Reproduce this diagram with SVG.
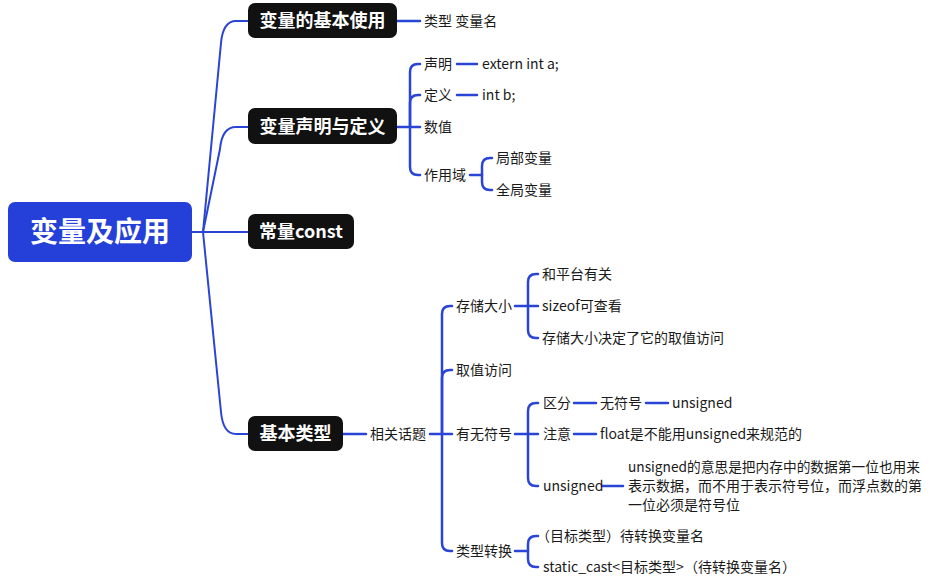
<svg xmlns="http://www.w3.org/2000/svg" width="932" height="581" viewBox="0 0 932 581">
<style>
.c{fill:none;stroke:#2a45d6;stroke-width:2.5;stroke-linecap:round;stroke-linejoin:round}
.tr{stroke-width:2}
.n{fill:#111111}
.nt{fill:#ffffff;font-family:"Noto Sans CJK SC","Noto Sans",sans-serif;font-weight:bold;font-size:18px}
.t{fill:#1a1a1a;font-family:"Noto Sans CJK SC","Noto Sans",sans-serif;font-size:14px}
</style>
<rect width="932" height="581" fill="#ffffff"/>
<g id="connectors">
<path class="c tr" d="M192,232 H203"/>
<path class="c tr" d="M203,232 L221,43 Q223,21 236,21 H248"/>
<path class="c tr" d="M203,232 L220,149 Q222,127 236,127 H248"/>
<path class="c tr" d="M203,232 H248"/>
<path class="c tr" d="M203,232 L221,412 Q223,434 236,434 H248"/>
<path class="c" d="M397,21 H420"/>
<path class="c" d="M397,127 H410 V72 Q410,64 418,64 H420"/>
<path class="c" d="M410,127 V103 Q410,95 418,95 H420"/>
<path class="c" d="M410,127 H420"/>
<path class="c" d="M410,127 V167 Q410,175 418,175 H420"/>
<path class="c" d="M457,64 H477"/>
<path class="c" d="M457,95 H477"/>
<path class="c" d="M470,175 H482 V166 Q482,158 490,158 H492"/>
<path class="c" d="M482,175 V182 Q482,190 490,190 H492"/>
<path class="c" d="M343,434 H366"/>
<path class="c" d="M430,434 H442 V314 Q442,306 450,306 H452"/>
<path class="c" d="M442,434 V378 Q442,370 450,370 H452"/>
<path class="c" d="M442,434 H452"/>
<path class="c" d="M442,434 V543 Q442,551 450,551 H452"/>
<path class="c" d="M515,306 H528 V282 Q528,274 536,274 H538"/>
<path class="c" d="M528,306 H538"/>
<path class="c" d="M528,306 V330 Q528,338 536,338 H538"/>
<path class="c" d="M515,434 H528 V411 Q528,403 536,403 H538"/>
<path class="c" d="M528,434 H538"/>
<path class="c" d="M528,434 V478 Q528,486 536,486 H538"/>
<path class="c" d="M574,403 H596"/>
<path class="c" d="M646,403 H668"/>
<path class="c" d="M574,434 H596"/>
<path class="c" d="M602,486 H623"/>
<path class="c" d="M515,551 H528 V544 Q528,536 536,536 H538"/>
<path class="c" d="M528,551 V559 Q528,567 536,567 H538"/>
</g>
<g id="root">
<rect x="8" y="202" width="184" height="60" rx="7" fill="#2440d8"/>
<text x="100" y="242" text-anchor="middle" fill="#ffffff" font-family="Noto Sans CJK SC, sans-serif" font-weight="bold" font-size="28">变量及应用</text>
</g>
<g id="n1">
<rect class="n" x="248" y="3" width="149" height="35" rx="7"/>
<text class="nt" x="322.5" y="27" text-anchor="middle">变量的基本使用</text>
</g>
<g id="n2">
<rect class="n" x="248" y="108" width="149" height="36" rx="7"/>
<text class="nt" x="322.5" y="133" text-anchor="middle">变量声明与定义</text>
</g>
<g id="n3">
<rect class="n" x="248" y="214" width="106" height="35" rx="7"/>
<text class="nt" x="301" y="238" text-anchor="middle">常量const</text>
</g>
<g id="n4">
<rect class="n" x="248" y="416" width="95" height="35" rx="7"/>
<text class="nt" x="295.5" y="440" text-anchor="middle">基本类型</text>
</g>
<g id="leaves">
<text class="t" x="424" y="26">类型 变量名</text>
<text class="t" x="424" y="69">声明</text>
<text class="t" x="482" y="69">extern int a;</text>
<text class="t" x="424" y="100">定义</text>
<text class="t" x="482" y="100">int b;</text>
<text class="t" x="424" y="132">数值</text>
<text class="t" x="424" y="180">作用域</text>
<text class="t" x="496" y="163">局部变量</text>
<text class="t" x="496" y="195">全局变量</text>
<text class="t" x="370" y="439">相关话题</text>
<text class="t" x="456" y="311">存储大小</text>
<text class="t" x="542" y="279">和平台有关</text>
<text class="t" x="542" y="311">sizeof可查看</text>
<text class="t" x="542" y="343">存储大小决定了它的取值访问</text>
<text class="t" x="456" y="375">取值访问</text>
<text class="t" x="456" y="439">有无符号</text>
<text class="t" x="543" y="408">区分</text>
<text class="t" x="600" y="408">无符号</text>
<text class="t" x="672" y="408">unsigned</text>
<text class="t" x="543" y="439">注意</text>
<text class="t" x="600" y="439">float是不能用unsigned来规范的</text>
<text class="t" x="543" y="491">unsigned</text>
<text class="t" x="628" y="472" textLength="292" lengthAdjust="spacingAndGlyphs">unsigned的意思是把内存中的数据第一位也用来</text>
<text class="t" x="628" y="491">表示数据，而不用于表示符号位，而浮点数的第</text>
<text class="t" x="628" y="510">一位必须是符号位</text>
<text class="t" x="456" y="556">类型转换</text>
<text class="t" x="536" y="541">（目标类型）待转换变量名</text>
<text class="t" x="543" y="572">static_cast&lt;目标类型&gt;（待转换变量名）</text>
</g>
</svg>
